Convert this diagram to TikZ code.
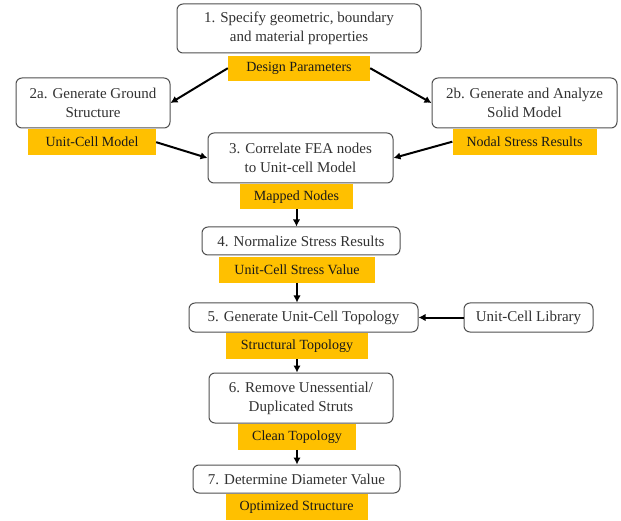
\documentclass[tikz,border=0pt]{standalone}
\usepackage{fontspec}
\setmainfont{Liberation Serif}
\usepackage{xcolor}
\usepackage{tikz}
\usetikzlibrary{arrows.meta, positioning}
\definecolor{goldfill}{RGB}{255, 192, 0}
\definecolor{boxline}{RGB}{80, 80, 80}
\definecolor{boxtext}{RGB}{50, 50, 50}

\begin{document}
\begin{tikzpicture}[
    x=1pt, y=-1pt,
    stepbox/.style={rectangle, draw=boxline, line width=1pt, fill=white, rounded corners=6pt, align=center, text=boxtext, font=\fontsize{15}{19}\selectfont, inner sep=2pt},
    outlabel/.style={rectangle, fill=goldfill, align=center, text=black!90, font=\fontsize{14}{18}\selectfont, minimum height=26pt, inner sep=2pt},
    arrow/.style={-{Latex[length=7pt, width=7.5pt]}, line width=2pt, color=black}
]
    \useasboundingbox (0,0) rectangle (621,521);

    % process steps
    \node[stepbox, minimum width=244pt, minimum height=49pt] (specify) at (299,28.5) {1. Specify geometric, boundary\\and material properties};
    \node[stepbox, minimum width=154pt, minimum height=50pt] (ground) at (93,103) {2a. Generate Ground\\Structure};
    \node[stepbox, minimum width=185pt, minimum height=50pt] (solid) at (524.5,103) {2b. Generate and Analyze\\Solid Model};
    \node[stepbox, minimum width=185pt, minimum height=50pt] (correlate) at (300.5,158) {3. Correlate FEA nodes\\to Unit-cell Model};
    \node[stepbox, minimum width=198pt, minimum height=28pt] (normalize) at (301,241) {4. Normalize Stress Results};
    \node[stepbox, minimum width=229pt, minimum height=29pt] (topology) at (303.5,317.5) {5. Generate Unit-Cell Topology};
    \node[stepbox, minimum width=129pt, minimum height=29pt] (library) at (528.5,317.5) {Unit-Cell Library};
    \node[stepbox, minimum width=184pt, minimum height=50pt] (remove) at (301,398) {6. Remove Unessential/\\Duplicated Struts};
    \node[stepbox, minimum width=207pt, minimum height=28pt] (diameter) at (296.5,479) {7. Determine Diameter Value};

    % outputs of each step
    \node[outlabel, minimum width=142pt, below=2pt of specify, minimum height=25pt] (params) {Design Parameters};
    \node[outlabel, minimum width=128pt, below=0.5pt of ground, xshift=-1pt] (cellmodel) {Unit-Cell Model};
    \node[outlabel, minimum width=144pt, below=0pt of solid] (nodalstress) {Nodal Stress Results};
    \node[outlabel, minimum width=113pt, below=0.5pt of correlate, xshift=-4pt, minimum height=25pt] (mapped) {Mapped Nodes};
    \node[outlabel, minimum width=156pt, below=1pt of normalize, xshift=-4pt] (cellstress) {Unit-Cell Stress Value};
    \node[outlabel, minimum width=142pt, below=0.5pt of topology, xshift=-6.5pt] (structural) {Structural Topology};
    \node[outlabel, minimum width=118pt, below=0pt of remove, xshift=-4pt] (clean) {Clean Topology};
    \node[outlabel, minimum width=142pt, below=0.5pt of diameter] (optimized) {Optimized Structure};

    % connectors
    \draw[arrow] (params.west) -- (ground.east);
    \draw[arrow] (params.east) -- (solid.west);
    \draw[arrow] (cellmodel.east) -- (correlate.west);
    \draw[arrow] (nodalstress.west) -- (correlate.east);
    \draw[arrow] (mapped.south) -- (mapped.south |- normalize.north);
    \draw[arrow] (cellstress.south) -- (cellstress.south |- topology.north);
    \draw[arrow] (library.west) -- (topology.east);
    \draw[arrow] (structural.south) -- (structural.south |- remove.north);
    \draw[arrow] (clean.south) -- (clean.south |- diameter.north);
\end{tikzpicture}
\end{document}
